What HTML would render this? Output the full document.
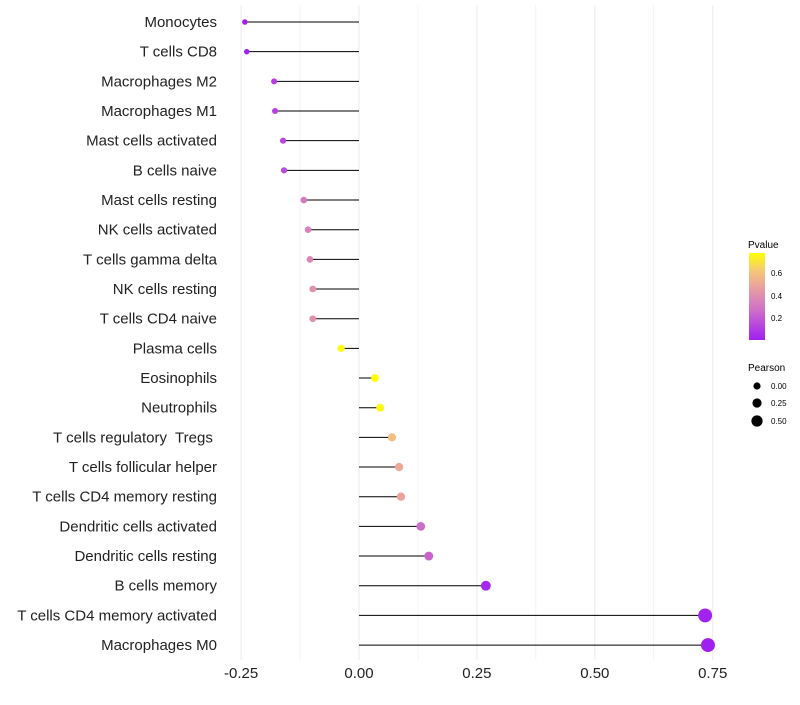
<!DOCTYPE html>
<html><head><meta charset="utf-8"><style>
body{margin:0;background:#fff;font-family:"Liberation Sans",sans-serif;}
text{white-space:pre;}
</style></head><body>
<svg id="chart" width="800" height="700" xmlns="http://www.w3.org/2000/svg">
<defs><linearGradient id="pg" x1="0" y1="1" x2="0" y2="0">
<stop offset="0" stop-color="#a020f0"/><stop offset="0.35" stop-color="#d070c8"/><stop offset="0.6" stop-color="#e8a0a0"/><stop offset="0.8" stop-color="#f5c878"/><stop offset="1" stop-color="#ffff00"/></linearGradient></defs>
<g id="grid"></g><g id="marks"></g><g id="ylab"></g><g id="xlab"></g>
<g>
<text x="748" y="248" font-size="10">Pvalue</text>
<rect x="749" y="253" width="16" height="87" fill="url(#pg)"/>
<text x="771" y="276" font-size="8">0.6</text><text x="771" y="299" font-size="8">0.4</text><text x="771" y="321" font-size="8">0.2</text>
<text x="748" y="371" font-size="10">Pearson</text>
<circle cx="757" cy="386" r="3.6"/><text x="771" y="389" font-size="8">0.00</text>
<circle cx="757" cy="403" r="4.6"/><text x="771" y="406" font-size="8">0.25</text>
<circle cx="757" cy="421" r="5.6"/><text x="771" y="424" font-size="8">0.50</text>
</g>
</svg>
<script>
const categories=["Monocytes","T cells CD8","Macrophages M2","Macrophages M1","Mast cells activated","B cells naive","Mast cells resting","NK cells activated","T cells gamma delta","NK cells resting","T cells CD4 naive","Plasma cells","Eosinophils","Neutrophils","T cells regulatory  Tregs ","T cells follicular helper","T cells CD4 memory resting","Dendritic cells activated","Dendritic cells resting","B cells memory","T cells CD4 memory activated","Macrophages M0"];
const pearson=[-0.242,-0.238,-0.18,-0.178,-0.161,-0.159,-0.117,-0.108,-0.104,-0.098,-0.098,-0.038,0.034,0.045,0.07,0.085,0.089,0.131,0.148,0.269,0.734,0.74];
const pvalue=[0.02,0.03,0.12,0.13,0.15,0.16,0.33,0.36,0.38,0.42,0.42,0.78,0.79,0.77,0.6,0.52,0.5,0.28,0.25,0.05,0.03,0.02];
const xTicks=[-0.25,0,0.25,0.5,0.75];
const xTickLabels=["-0.25","0.00","0.25","0.50","0.75"];
const NS="http://www.w3.org/2000/svg";
const x=v=>359+v*471.6;
const y=i=>22+i*29.67;
const stops=[[0,[160,32,240]],[0.35,[208,112,200]],[0.6,[232,160,160]],[0.8,[245,200,120]],[1,[255,255,0]]];
function col(p){let t=Math.max(0,Math.min(1,(p-0.02)/0.77));for(let k=1;k<stops.length;k++){if(t<=stops[k][0]){const a=stops[k-1],b=stops[k],f=(t-a[0])/(b[0]-a[0]);return "rgb("+a[1].map((c,j)=>Math.round(c+(b[1][j]-c)*f)).join(",")+")";}}return "rgb(255,255,0)";}
function mk(tag,at,parent){const e=document.createElementNS(NS,tag);for(const k in at)e.setAttribute(k,at[k]);document.getElementById(parent).appendChild(e);return e;}
for(let v=-0.25;v<=0.751;v+=0.125){const g=mk("line",{x1:x(v),x2:x(v),y1:5,y2:660,stroke:"#ebebeb","stroke-width":Math.abs((v*8)%2)<0.01?1:0.6},"grid");

}
xTicks.forEach((v,i)=>{const t=mk("text",{x:x(v),y:678,"font-size":15,"text-anchor":"middle",fill:"#222"},"xlab");t.textContent=xTickLabels[i];

});
categories.forEach((c,i)=>{
const t=mk("text",{x:217,y:y(i)+5,"font-size":15,"text-anchor":"end",fill:"#222"},"ylab");t.textContent=c;


const l=mk("line",{x1:x(0),x2:x(pearson[i]),y1:y(i),y2:y(i),stroke:"#000","stroke-width":1},"marks");


const d=mk("circle",{cx:x(pearson[i]),cy:y(i),r:Math.max(2,3.8+4.3*pearson[i]),fill:col(pvalue[i])},"marks");


});
</script>
</body></html>
